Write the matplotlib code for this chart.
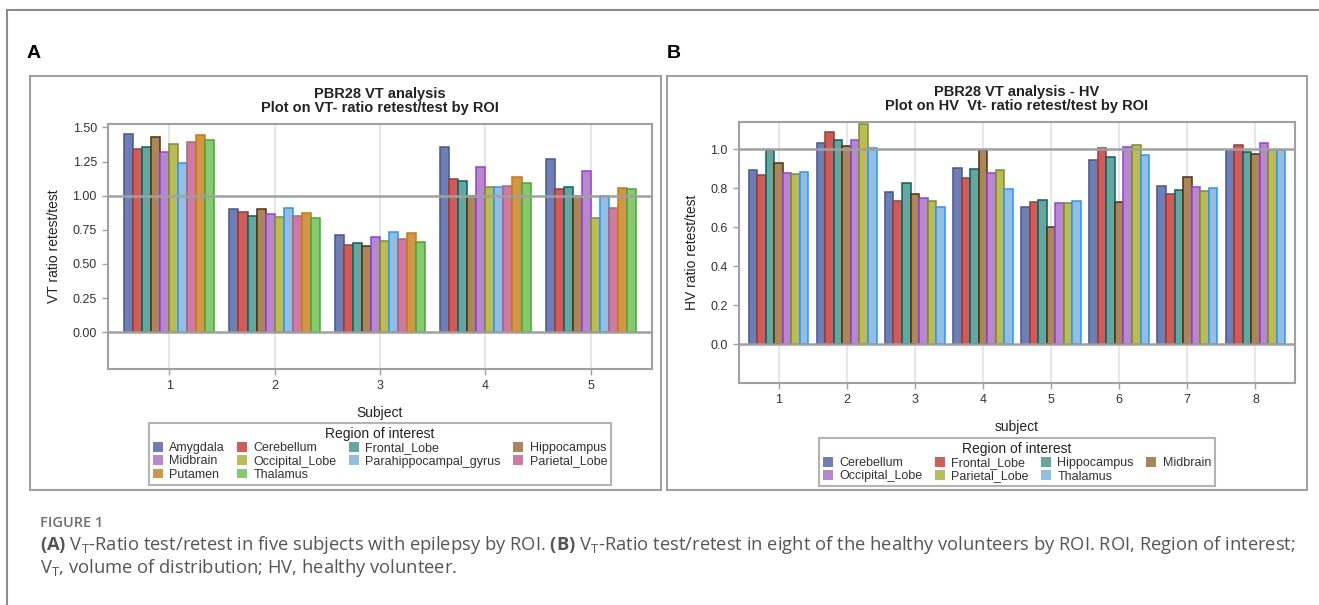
import numpy as np
import matplotlib
matplotlib.use("Agg")
import matplotlib.pyplot as plt
from matplotlib.patches import Rectangle, Patch
from matplotlib.lines import Line2D

# panel A: epilepsy subjects
subjectsA = [1, 2, 3, 4, 5]
roisA = ["Amygdala", "Cerebellum", "Frontal_Lobe", "Hippocampus", "Midbrain",
         "Occipital_Lobe", "Parahippocampal_gyrus", "Parietal_Lobe", "Putamen", "Thalamus"]
amygdala = [1.45, 0.90, 0.71, 1.355, 1.27]
cerebellumA = [1.345, 0.88, 0.64, 1.125, 1.05]
frontalA = [1.36, 0.85, 0.655, 1.11, 1.06]
hippocampusA = [1.43, 0.90, 0.633, 1.00, 1.00]
midbrainA = [1.32, 0.862, 0.697, 1.21, 1.18]
occipitalA = [1.38, 0.845, 0.667, 1.066, 0.838]
parahippocampal = [1.24, 0.91, 0.733, 1.061, 1.00]
parietalA = [1.395, 0.85, 0.685, 1.07, 0.913]
putamen = [1.445, 0.872, 0.729, 1.14, 1.057]
thalamusA = [1.41, 0.833, 0.663, 1.093, 1.047]
valsA = [amygdala, cerebellumA, frontalA, hippocampusA, midbrainA,
         occipitalA, parahippocampal, parietalA, putamen, thalamusA]

# panel B: healthy volunteers
subjectsB = [1, 2, 3, 4, 5, 6, 7, 8]
roisB = ["Cerebellum", "Frontal_Lobe", "Hippocampus", "Midbrain",
         "Occipital_Lobe", "Parietal_Lobe", "Thalamus"]
cerebellumB = [0.894, 1.031, 0.779, 0.906, 0.705, 0.947, 0.810, 0.995]
frontalB = [0.868, 1.089, 0.732, 0.854, 0.731, 1.009, 0.768, 1.024]
hippocampusB = [0.998, 1.048, 0.828, 0.897, 0.739, 0.959, 0.791, 0.985]
midbrainB = [0.930, 1.019, 0.770, 0.998, 0.602, 0.727, 0.858, 0.978]
occipitalB = [0.877, 1.050, 0.751, 0.877, 0.726, 1.014, 0.806, 1.034]
parietalB = [0.875, 1.129, 0.736, 0.892, 0.722, 1.022, 0.787, 0.995]
thalamusB = [0.882, 1.009, 0.703, 0.796, 0.736, 0.971, 0.803, 0.995]
valsB = [cerebellumB, frontalB, hippocampusB, midbrainB, occipitalB, parietalB, thalamusB]

fills = ["#6F7EB3", "#D05B5B", "#66A5A0", "#A9865B", "#B689CD",
         "#BABC5C", "#94BDE1", "#CD7BA1", "#CF974B", "#87C873"]
edges = ["#445694", "#A23A2E", "#01665E", "#543005", "#9D3CDB",
         "#7F8E1F", "#2597FA", "#B26084", "#D17800", "#47A82A"]

GRAY = "#A0A0A0"
plt.rcParams['font.family'] = ['Liberation Sans', 'DejaVu Sans']

fig = plt.figure(figsize=(13.19, 6.05), dpi=100)
W, H = 1319, 605


def px(x0, y0, x1, y1):
    return [x0 / W, 1 - y1 / H, (x1 - x0) / W, (y1 - y0) / H]


def draw_panel(rect, subjects, rois, vals, group_w, ylim, yticks, yfmt,
               ylabel, xlabel, title1, title2, leg_top, ncols_leg=4):
    ax = fig.add_axes(rect)
    n = len(rois)
    w = group_w / n
    x = np.array(subjects, dtype=float)
    for i, v in enumerate(vals):
        ax.bar(x + (i - (n - 1) / 2) * w, v, width=w, color=fills[i],
               edgecolor=edges[i], linewidth=1.1, zorder=3)
    ax.set_xlim(subjects[0] - 0.58, subjects[-1] + 0.58)
    ax.set_ylim(*ylim)
    ax.set_xticks(subjects)
    ax.set_yticks(yticks)
    ax.set_yticklabels([yfmt % t for t in yticks])
    for xv in subjects:
        ax.axvline(xv, color="#E4E4E4", lw=1.3, zorder=0)
    ax.axhline(0, color=GRAY, lw=1.8, zorder=4)
    ax.axhline(1, color=GRAY, lw=1.8, zorder=4)
    for s in ax.spines.values():
        s.set_color(GRAY)
        s.set_linewidth(1.5)
    ax.tick_params(direction="out", length=4, width=1, color=GRAY,
                   labelsize=9, labelcolor="#333333", pad=4)
    ax.set_ylabel(ylabel, fontsize=10, color="#222222", labelpad=8)
    ax.set_xlabel(xlabel, fontsize=10, color="#222222", labelpad=10)
    cx = rect[0] + rect[2] / 2
    top = rect[1] + rect[3]
    fig.text(cx, top + 0.05, title1, ha="center", va="center",
             fontsize=10.5, fontweight="bold", color="#222222")
    fig.text(cx, top + 0.027, title2, ha="center", va="center",
             fontsize=10.5, fontweight="bold", color="#222222")
    # legend, row-major order like SAS
    handles = [Patch(facecolor=fills[i], edgecolor="none") for i in range(n)]
    order = [i for c in range(ncols_leg) for i in range(c, n, ncols_leg)]
    leg = fig.legend([handles[i] for i in order], [rois[i] for i in order],
                     loc="upper center", bbox_to_anchor=(cx, leg_top),
                     ncol=ncols_leg, title="Region of interest", fontsize=9,
                     title_fontsize=10, frameon=True, fancybox=False,
                     handlelength=0.8, handleheight=0.8, handletextpad=0.5,
                     labelspacing=0.1, columnspacing=1.0, borderpad=0.3,
                     borderaxespad=0)
    leg.get_frame().set_edgecolor(GRAY)
    leg.get_frame().set_linewidth(1.5)
    for t in leg.get_texts():
        t.set_color("#333333")
    leg.get_title().set_color("#222222")
    return ax


draw_panel(px(108, 124, 652, 369), subjectsA, roisA, valsA, 0.856,
           (-0.27, 1.525), [0, 0.25, 0.5, 0.75, 1.0, 1.25, 1.5], "%.2f",
           "VT ratio retest/test", "Subject",
           "PBR28 VT analysis", "Plot on VT- ratio retest/test by ROI",
           1 - 423 / H)
draw_panel(px(739, 122, 1295, 383), subjectsB, roisB, valsB, 0.876,
           (-0.2, 1.14), [0, 0.2, 0.4, 0.6, 0.8, 1.0], "%.1f",
           "HV ratio retest/test", "subject",
           "PBR28 VT analysis - HV", "Plot on HV  Vt- ratio retest/test by ROI",
           1 - 438 / H)

# panel boxes and page frame
for x0, x1 in [(30, 661), (667, 1307)]:
    fig.patches.append(Rectangle((x0 / W, 1 - 490 / H), (x1 - x0) / W, (490 - 76) / H,
                                 transform=fig.transFigure, fill=False,
                                 edgecolor=GRAY, lw=1.5))
fig.add_artist(Line2D([7 / W, 7 / W], [0, 1 - 10 / H], transform=fig.transFigure,
                      color="#8C8C8C", lw=1.5))
fig.add_artist(Line2D([7 / W, 1], [1 - 10 / H, 1 - 10 / H], transform=fig.transFigure,
                      color="#8C8C8C", lw=1.5))

fig.text(27 / W, 1 - 53 / H, "A", fontsize=14, fontweight="bold", va="center")
fig.text(667 / W, 1 - 53 / H, "B", fontsize=14, fontweight="bold", va="center")

# caption
plt.rcParams['mathtext.fontset'] = 'custom'
plt.rcParams['mathtext.rm'] = 'Open Sans'
plt.rcParams['mathtext.bf'] = 'Open Sans:bold'
fig.text(40 / W, 1 - 523 / H, "FIGURE 1", fontsize=10.5, fontweight="semibold",
         color="#707070", family="Open Sans", va="center")
line1 = (r"$\mathbf{(A)}$ V$_{\mathrm{T}}$-Ratio test/retest in five subjects with epilepsy by ROI. "
         r"$\mathbf{(B)}$ V$_{\mathrm{T}}$-Ratio test/retest in eight of the healthy volunteers by ROI. "
         r"ROI, Region of interest;")
line2 = r"V$_{\mathrm{T}}$, volume of distribution; HV, healthy volunteer."
fig.text(40 / W, 1 - 545 / H, line1, fontsize=13.2, color="#555555",
         family="Open Sans", va="center")
fig.text(40 / W, 1 - 568 / H, line2, fontsize=13.2, color="#555555",
         family="Open Sans", va="center")

fig.savefig("out.png", dpi=100)
